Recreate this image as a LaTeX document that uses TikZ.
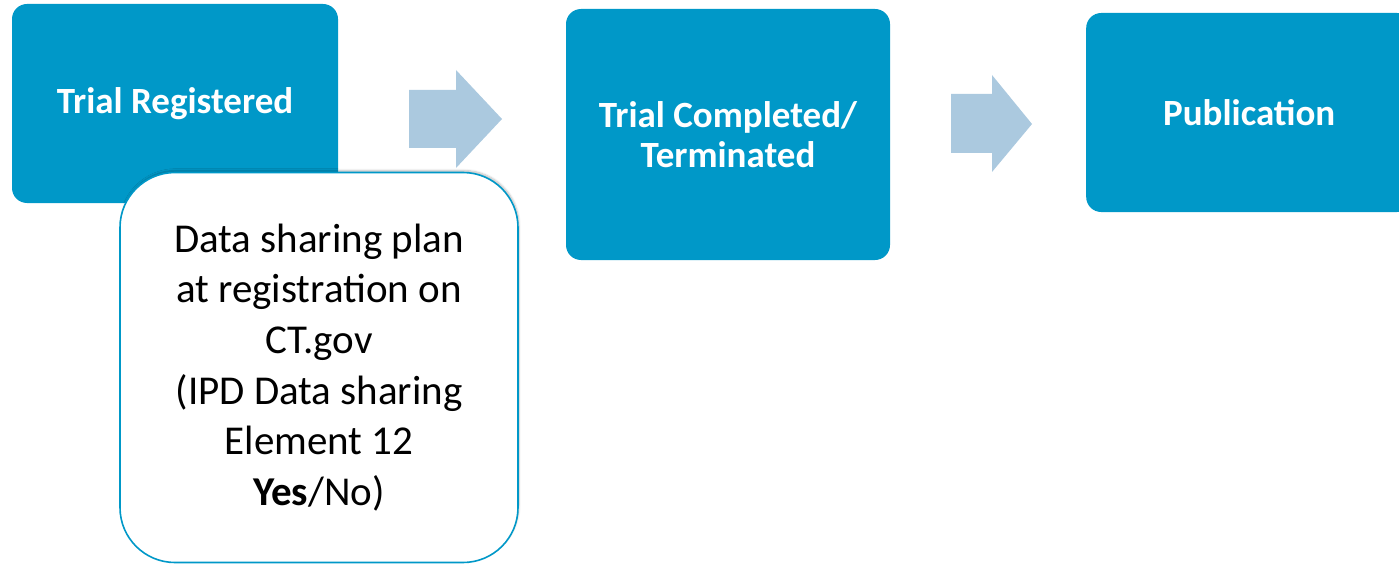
\documentclass[tikz,border=0pt]{standalone}
\usepackage{fontspec}
\setmainfont{Carlito}
\usetikzlibrary{shadows.blur}
\definecolor{stageblue}{RGB}{0,152,200}
\definecolor{flowblue}{RGB}{171,201,223}
\tikzset{
  stage/.style={fill=stageblue, rounded corners=15pt, text=white,
    font=\fontsize{37}{40.5}\selectfont\bfseries, align=center, inner sep=0pt},
  note/.style={draw=stageblue, line width=1.6pt, fill=white, rounded corners=55pt,
    font=\fontsize{41}{50.6}\selectfont, align=center, inner sep=0pt,
    blur shadow={shadow xshift=1pt, shadow yshift=2pt, shadow opacity=25, shadow blur steps=6}},
  flow/.style={fill=flowblue, draw=none}
}
\begin{document}
\begin{tikzpicture}[x=1pt,y=-1pt]
  \useasboundingbox (0,0) rectangle (1399,564);
  \begin{scope}
    \clip (0,0) rectangle (1399,564);
    % process stages
    \node[stage, minimum width=326pt, minimum height=199pt] (reg) at (175,103.5) {Trial Registered};
    \node[stage, minimum width=324pt, minimum height=251pt] (done) at (728,134.5) {Trial Completed/\\Terminated};
    \node[stage, minimum width=326pt, minimum height=199pt, anchor=west] (pub) at (1086,112.5) {Publication};
    % block arrows between the stages
    \fill[flow] (409,90) -- (456,90) -- (456,70) -- (502,119) -- (456,168) -- (456,148) -- (409,148) -- cycle;
    \fill[flow] (951,94) -- (992,94) -- (992,75) -- (1032,124) -- (992,172) -- (992,153) -- (951,153) -- cycle;
    % data sharing note on top of the first stage
    \node[note, minimum width=398pt, minimum height=390pt] (plan) at (319,367.5)
      {Data sharing plan\\at registration on\\CT.gov\\(IPD Data sharing\\Element 12\\\textbf{Yes}/No)};
  \end{scope}
\end{tikzpicture}
\end{document}
